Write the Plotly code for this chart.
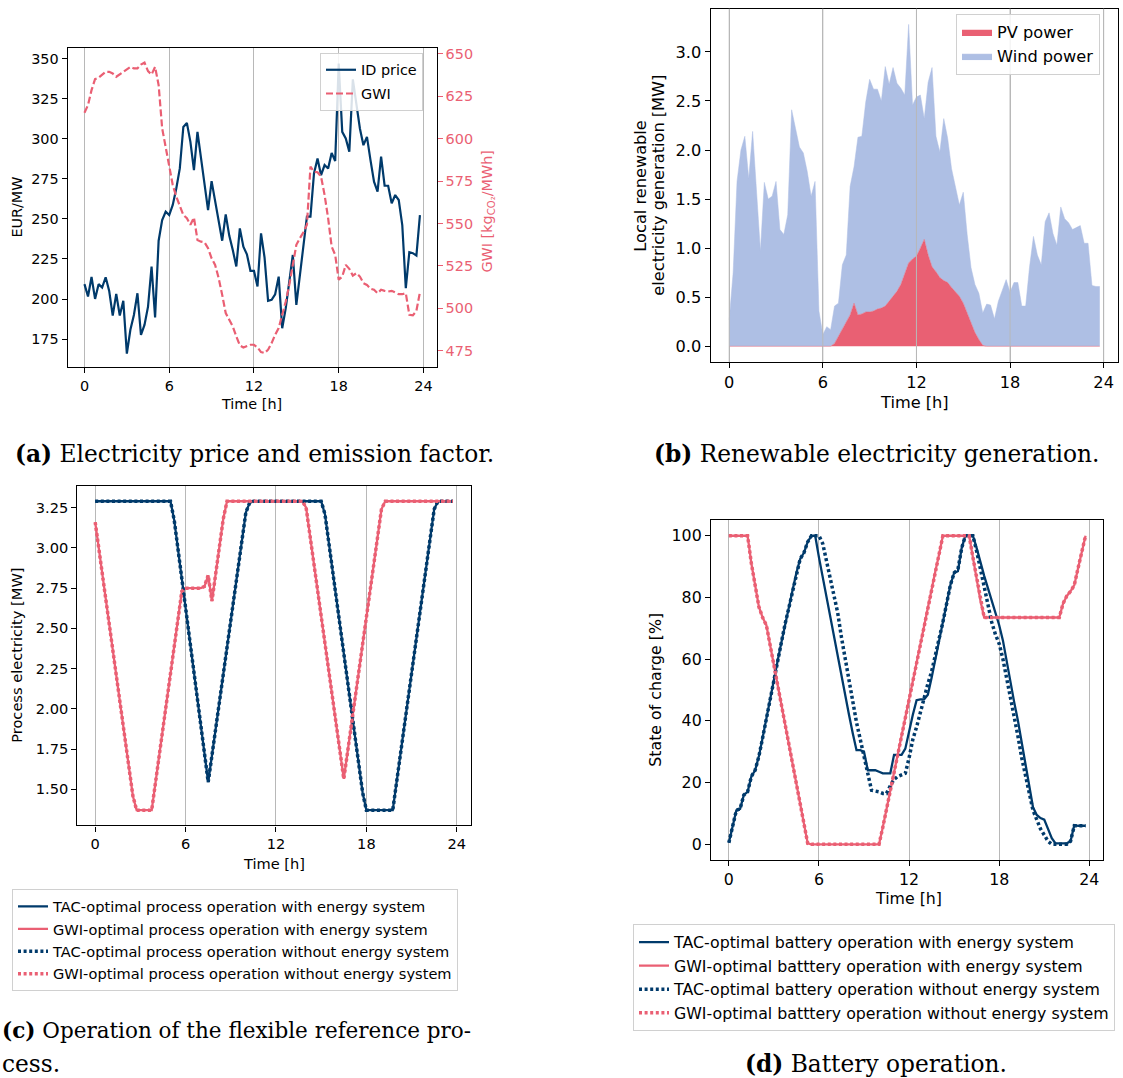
import plotly.graph_objects as go

# ---------------- data ----------------
time_h = [q / 4 for q in range(96)]
tick_hours = [0, 6, 12, 18, 24]

id_price = [209.3, 201.6, 213.8, 200.1, 209.3, 207.2, 213.6, 205.1, 189.7, 203.2,
            189.7, 198.9, 165.9, 180.8, 190.1, 203.6, 177.7, 183.9, 195.3, 220.3,
            188.5, 236.4, 249.3, 254.5, 252.4, 258.7, 269.0, 281.5, 307.4, 309.9,
            298.1, 280.5, 304.3, 287.7, 273.2, 255.5, 273.6, 260.7, 249.3, 236.4,
            252.8, 239.6, 230.6, 220.3, 244.1, 232.7, 227.9, 217.6, 217.6, 207.8,
            241.0, 225.9, 198.9, 199.5, 203.0, 214.0, 181.8, 194.3, 210.9, 227.5,
            196.4, 215.1, 230.6, 251.4, 251.4, 278.4, 287.7, 277.3, 283.6, 281.5,
            291.2, 286.1, 346.9, 304.3, 300.2, 291.9, 337.1, 320.9, 306.4, 296.0,
            301.2, 286.7, 273.2, 267.0, 288.8, 270.7, 270.7, 259.7, 264.9, 261.8,
            246.2, 206.8, 229.2, 228.6, 227.1, 252.4]

gwi_factor = [615.3, 619.8, 628.6, 635.1, 635.9, 637.4, 639.4, 639.4, 638.4, 636.5,
              638.0, 639.8, 641.0, 642.3, 641.4, 641.4, 643.7, 644.9, 639.8, 637.8,
              642.3, 631.6, 606.1, 594.3, 584.5, 572.7, 565.8, 559.9, 555.0, 553.1,
              549.2, 553.5, 540.3, 539.3, 538.9, 535.4, 529.5, 525.6, 517.8, 507.9,
              497.2, 493.2, 489.3, 483.4, 478.1, 476.9, 477.5, 478.5, 478.5, 476.9,
              474.2, 473.6, 475.6, 479.5, 484.4, 488.3, 496.2, 504.0, 513.8, 526.6,
              537.4, 541.3, 544.8, 549.2, 583.5, 580.5, 580.2, 577.6, 566.8, 553.1,
              536.4, 531.5, 516.8, 518.7, 525.6, 523.3, 519.3, 520.7, 518.7, 514.8,
              513.8, 511.5, 510.9, 508.9, 510.9, 510.3, 509.9, 510.3, 509.5, 508.3,
              508.3, 508.9, 496.2, 495.8, 498.5, 509.5]

pv_power = [0.0] * 27 + [
    0.03, 0.10, 0.17, 0.24, 0.32, 0.44, 0.32, 0.33, 0.35, 0.35,
    0.36, 0.38, 0.39, 0.41, 0.46, 0.51, 0.56, 0.63, 0.75, 0.85,
    0.89, 0.92, 1.00, 1.09, 0.93, 0.81, 0.76, 0.70, 0.67, 0.65,
    0.60, 0.56, 0.51, 0.44, 0.34, 0.24, 0.14, 0.07, 0.01] + [0.0] * 30

wind_power = [0.27, 0.75, 1.68, 2.00, 2.14, 1.71, 2.19, 1.58, 0.97, 1.67,
              1.50, 1.53, 1.68, 1.19, 1.14, 1.34, 2.41, 2.22, 2.03, 1.97,
              1.78, 1.53, 1.68, 0.36, 0.12, 0.20, 0.17, 0.38, 0.34, 0.66,
              0.69, 1.31, 1.39, 1.81, 1.81, 2.14, 2.37, 2.26, 2.24, 2.11,
              2.44, 2.21, 2.33, 2.12, 2.00, 1.81, 2.43, 1.57, 1.62, 1.56,
              1.23, 1.76, 2.03, 1.38, 1.28, 1.65, 1.47, 1.21, 1.08, 0.93,
              1.13, 0.80, 0.56, 0.49, 0.47, 0.33, 0.43, 0.42, 0.28, 0.46,
              0.57, 0.68, 0.55, 0.65, 0.65, 0.41, 0.41, 0.81, 1.12, 0.93,
              0.83, 1.27, 1.36, 1.15, 1.03, 1.42, 1.30, 1.26, 1.19, 1.21,
              1.23, 1.05, 1.05, 0.62, 0.61, 0.61]

tac_process_with = [3.29] * 20 + [
    3.29, 3.17, 2.99, 2.81, 2.64, 2.46, 2.28, 2.10, 1.92, 1.74,
    1.545, 1.71, 1.88, 2.05, 2.22, 2.39, 2.56, 2.73, 2.90, 3.07,
    3.22, 3.28] + [3.29] * 18 + [
    3.29, 3.21, 3.04, 2.87, 2.69, 2.52, 2.35, 2.17, 2.00, 1.83,
    1.65, 1.48, 1.37] + [1.37] * 7 + [
    1.54, 1.71, 1.88, 2.05, 2.22, 2.39, 2.56, 2.73, 2.90, 3.07,
    3.24] + [3.29] * 5

gwi_process_with = [
    3.16, 2.99, 2.82, 2.65, 2.48, 2.31, 2.14, 1.97, 1.80, 1.63,
    1.46, 1.37, 1.37, 1.37, 1.37, 1.37, 1.54, 1.71, 1.88, 2.05,
    2.22, 2.39, 2.56, 2.73, 2.75, 2.75, 2.75, 2.75, 2.75, 2.76,
    2.83, 2.67, 2.84, 3.01, 3.18, 3.29] + [3.29] * 20 + [
    3.25, 3.08, 2.91, 2.74, 2.57, 2.40, 2.23, 2.06, 1.89, 1.72,
    1.565, 1.73, 1.90, 2.07, 2.24, 2.41, 2.58, 2.75, 2.92, 3.09,
    3.24] + [3.29] * 19

tac_process_without = list(tac_process_with)
gwi_process_without = list(gwi_process_with)

tac_battery_with = [
    0.5, 6, 11, 11.5, 16, 17, 22, 24, 28.5, 34.5,
    41, 47, 53.5, 59.5, 65.5, 71.5, 77, 82.5, 88, 92.5,
    94.5, 98, 100, 100, 93, 86.5, 80, 74, 67.5, 61,
    55, 48.5, 42, 36, 30.5, 30.5, 30, 24, 24, 24,
    23.5, 23, 23, 23, 29, 29, 29, 31, 37, 42,
    46.7, 47, 47, 48.5, 54, 60, 66, 72, 78, 84,
    88, 88.5, 96, 100, 100, 100, 96, 91, 87, 83,
    79, 75, 71, 66, 59, 53, 46, 40, 33, 26,
    20, 12, 9.5, 8.5, 8, 5, 2, 0.3, 0.3, 0.3,
    0.3, 1, 6.2, 6.0, 6.0, 6.0]

tac_battery_without = [
    0.5, 6, 11, 11.5, 16, 17, 22, 24, 28.5, 34.5,
    41, 47, 53.5, 59.5, 65.5, 71.5, 77, 82.5, 88, 92.5,
    94.5, 98, 100, 100, 100, 97.5, 92, 87, 81, 75,
    67, 60, 54.5, 47, 39.5, 34, 29, 23, 17.5, 17.3,
    17, 16.5, 16.5, 19, 21, 22, 22.5, 23, 28, 34,
    38, 43, 48, 52, 56, 61, 66, 72, 78, 84,
    88, 89, 96, 100, 100, 100, 95, 89, 83, 77,
    72, 68, 65, 60, 54, 47, 41, 35, 28, 22,
    16, 11, 8, 5, 3, 1, 0, 0, 0, 0,
    0, 1, 6, 6, 6, 6]

gwi_battery_with = [100] * 6 + [
    91, 84, 77, 73.5, 71, 64.5, 58, 51.5, 45, 38.5,
    32, 25.5, 19, 12.5, 6, 0.3] + [0] * 19 + [
    5.5, 11.5, 17.5, 23, 29, 35, 41, 47, 53, 59,
    65, 70.5, 76.5, 82.5, 88.5, 94, 100] + [100] * 7 + [
    93, 86, 79, 73.5] + [73.5] * 20 + [
    78, 80.5, 82, 84, 89.5, 95, 100]
gwi_battery_without = list(gwi_battery_with)

# ---------------- style ----------------
W, H = 1123, 1078
NAVY = "#003A6B"
PINK = "#EA5F73"
PV_FILL = "#E96073"
WIND_FILL = "#AEBFE4"
GRID = "#b8b8b8"
FONT = "DejaVu Sans"
SERIF = "DejaVu Serif"
FS_A, FS_B, FS_C, FS_D = 14.4, 16.2, 14.6, 15.8


def fx(px):
    return px / W


def fy(px):
    return 1 - px / H


fig = go.Figure()


def line_trace(y, name, color, width, xa, ya, leg, dash=None):
    ln = dict(color=color, width=width)
    if dash:
        ln["dash"] = dash
    fig.add_trace(go.Scatter(x=time_h, y=y, mode="lines", name=name, line=ln,
                             xaxis=xa, yaxis=ya, legend=leg, legendgroup=name))


# (a)
line_trace(id_price, "ID price", NAVY, 2.2, "x", "y", "legend")
line_trace(gwi_factor, "GWI", PINK, 2.2, "x", "y2", "legend", dash="7px,3px")
# (b)
fig.add_trace(go.Scatter(x=time_h, y=pv_power, mode="lines", name="PV power", stackgroup="gen",
                         fillcolor=PV_FILL, line=dict(color=PV_FILL, width=0.5),
                         xaxis="x2", yaxis="y3", legend="legend2", legendgroup="pv"))
fig.add_trace(go.Scatter(x=time_h, y=wind_power, mode="lines", name="Wind power", stackgroup="gen",
                         fillcolor=WIND_FILL, line=dict(color=WIND_FILL, width=0.5),
                         xaxis="x2", yaxis="y3", legend="legend2", legendgroup="wind"))
# (c)
dot = "3px,2.6px"
line_trace(tac_process_with, "TAC-optimal process operation with energy system", NAVY, 2.3,
           "x3", "y4", "legend3")
line_trace(gwi_process_with, "GWI-optimal process operation with energy system", PINK, 2.3,
           "x3", "y4", "legend3")
line_trace(tac_process_without, "TAC-optimal process operation without energy system", NAVY, 3.5,
           "x3", "y4", "legend3", dash=dot)
line_trace(gwi_process_without, "GWI-optimal process operation without energy system", PINK, 3.5,
           "x3", "y4", "legend3", dash=dot)
# (d)
line_trace(tac_battery_with, "TAC-optimal battery operation with energy system", NAVY, 2.3,
           "x4", "y5", "legend4")
line_trace(gwi_battery_with, "GWI-optimal batttery operation with energy system", PINK, 2.3,
           "x4", "y5", "legend4")
line_trace(tac_battery_without, "TAC-optimal battery operation without energy system", NAVY, 3.5,
           "x4", "y5", "legend4", dash=dot)
line_trace(gwi_battery_without, "GWI-optimal batttery operation without energy system", PINK, 3.5,
           "x4", "y5", "legend4", dash=dot)


def xax(fs, **kw):
    d = dict(range=[-1.1875, 24.9375], tickvals=tick_hours, showgrid=True, gridcolor=GRID,
             gridwidth=1, showline=True, linecolor="black", linewidth=1.3, mirror=True,
             ticks="outside", ticklen=5, tickcolor="black",
             tickfont=dict(family=FONT, size=fs, color="black"), zeroline=False)
    d.update(kw)
    return d


def yax(fs, **kw):
    d = dict(showgrid=False, showline=True, linecolor="black", linewidth=1.3, mirror=True,
             ticks="outside", ticklen=5, tickcolor="black",
             tickfont=dict(family=FONT, size=fs, color="black"), zeroline=False)
    d.update(kw)
    return d


fig.update_layout(
    width=W, height=H, margin=dict(l=0, r=0, t=0, b=0),
    paper_bgcolor="white", plot_bgcolor="white",
    font=dict(family=FONT, size=FS_A, color="black"),
    xaxis=xax(FS_A, domain=[fx(67.7), fx(436.7)], anchor="y"),
    yaxis=yax(FS_A, domain=[fy(366), fy(46)], anchor="x", range=[157.4, 356.7],
              tickvals=[175, 200, 225, 250, 275, 300, 325, 350]),
    yaxis2=dict(overlaying="y", side="right", anchor="x", range=[465.2, 653.5],
                tickvals=[475, 500, 525, 550, 575, 600, 625, 650], showgrid=False, showline=False,
                ticks="outside", ticklen=5, tickcolor=PINK, zeroline=False,
                tickfont=dict(family=FONT, size=FS_A, color=PINK)),
    xaxis2=xax(FS_B, domain=[fx(710.7), fx(1118.3)], anchor="y3"),
    yaxis3=yax(FS_B, domain=[fy(360.7), fy(6.7)], anchor="x2", range=[-0.16, 3.44],
               tickvals=[0, 0.5, 1, 1.5, 2, 2.5, 3], tickformat=".1f"),
    xaxis3=xax(FS_C, domain=[fx(77.3), fx(470.9)], anchor="y4"),
    yaxis4=yax(FS_C, domain=[fy(825), fy(484.7)], anchor="x3", range=[1.275, 3.386],
               tickvals=[1.5, 1.75, 2.0, 2.25, 2.5, 2.75, 3.0, 3.25], tickformat=".2f"),
    xaxis4=xax(FS_D, domain=[fx(711), fx(1103.4)], anchor="y5"),
    yaxis5=yax(FS_D, domain=[fy(859.3), fy(519.3)], anchor="x4", range=[-5, 105],
               tickvals=[0, 20, 40, 60, 80, 100]),
)


def leg(x, y, fs, gap):
    return dict(x=fx(x), y=fy(y), xanchor="left", yanchor="top",
                bgcolor="rgba(255,255,255,0.85)", bordercolor="#d0d0d0", borderwidth=1,
                font=dict(family=FONT, size=fs), traceorder="grouped", tracegroupgap=gap,
                itemwidth=30)


fig.update_layout(
    legend=leg(320, 51, FS_A, 2),
    legend2=leg(956, 12, FS_B, 0),
    legend3=leg(12, 889, FS_C, 0.5),
    legend4=leg(633, 924, FS_D, 0),
)

# vertical grid lines drawn above the filled areas in (b)
for h in tick_hours:
    fig.add_shape(type="line", xref="x2", yref="y3 domain", x0=h, x1=h, y0=0, y1=1,
                  line=dict(color=GRID, width=1), layer="above")


def label(text, x, y, size, angle=0, color="black", family=FONT, xanchor="center"):
    fig.add_annotation(text=text, x=fx(x), y=fy(y), xref="paper", yref="paper",
                       showarrow=False, textangle=angle, xanchor=xanchor, yanchor="middle",
                       font=dict(family=family, size=size, color=color))


# axis titles
label("EUR/MW", 17, 206, FS_A, angle=-90)
label("GWI [kg<sub>CO₂</sub>/MWh]", 488, 210, FS_A, angle=-90, color=PINK)
label("Time [h]", 252, 403, FS_A)
label("Local renewable", 641, 184, FS_B, angle=-90)
label("electricity generation [MW]", 659, 184, FS_B, angle=-90)
label("Time [h]", 914, 401, FS_B)
label("Process electricity [MW]", 17, 655, FS_C, angle=-90)
label("Time [h]", 274, 863, FS_C)
label("State of charge [%]", 656, 689, FS_D, angle=-90)
label("Time [h]", 908, 898, FS_D)

# captions
CAP = 23.3
label("<b>(a)</b> Electricity price and emission factor.", 254, 452, CAP, family=SERIF)
label("<b>(b)</b> Renewable electricity generation.", 876, 452, CAP, family=SERIF)
label("<b>(c)</b> Operation of the flexible reference pro-", 0, 1030, 21.5, family=SERIF,
      xanchor="left")
label("cess.", 0, 1063, CAP, family=SERIF, xanchor="left")
label("<b>(d)</b> Battery operation.", 876, 1063, CAP, family=SERIF)

fig.write_html("out.html", include_plotlyjs=True, config={"displayModeBar": False},
               post_script="document.body.style.margin='0';document.body.style.overflow='hidden';")
